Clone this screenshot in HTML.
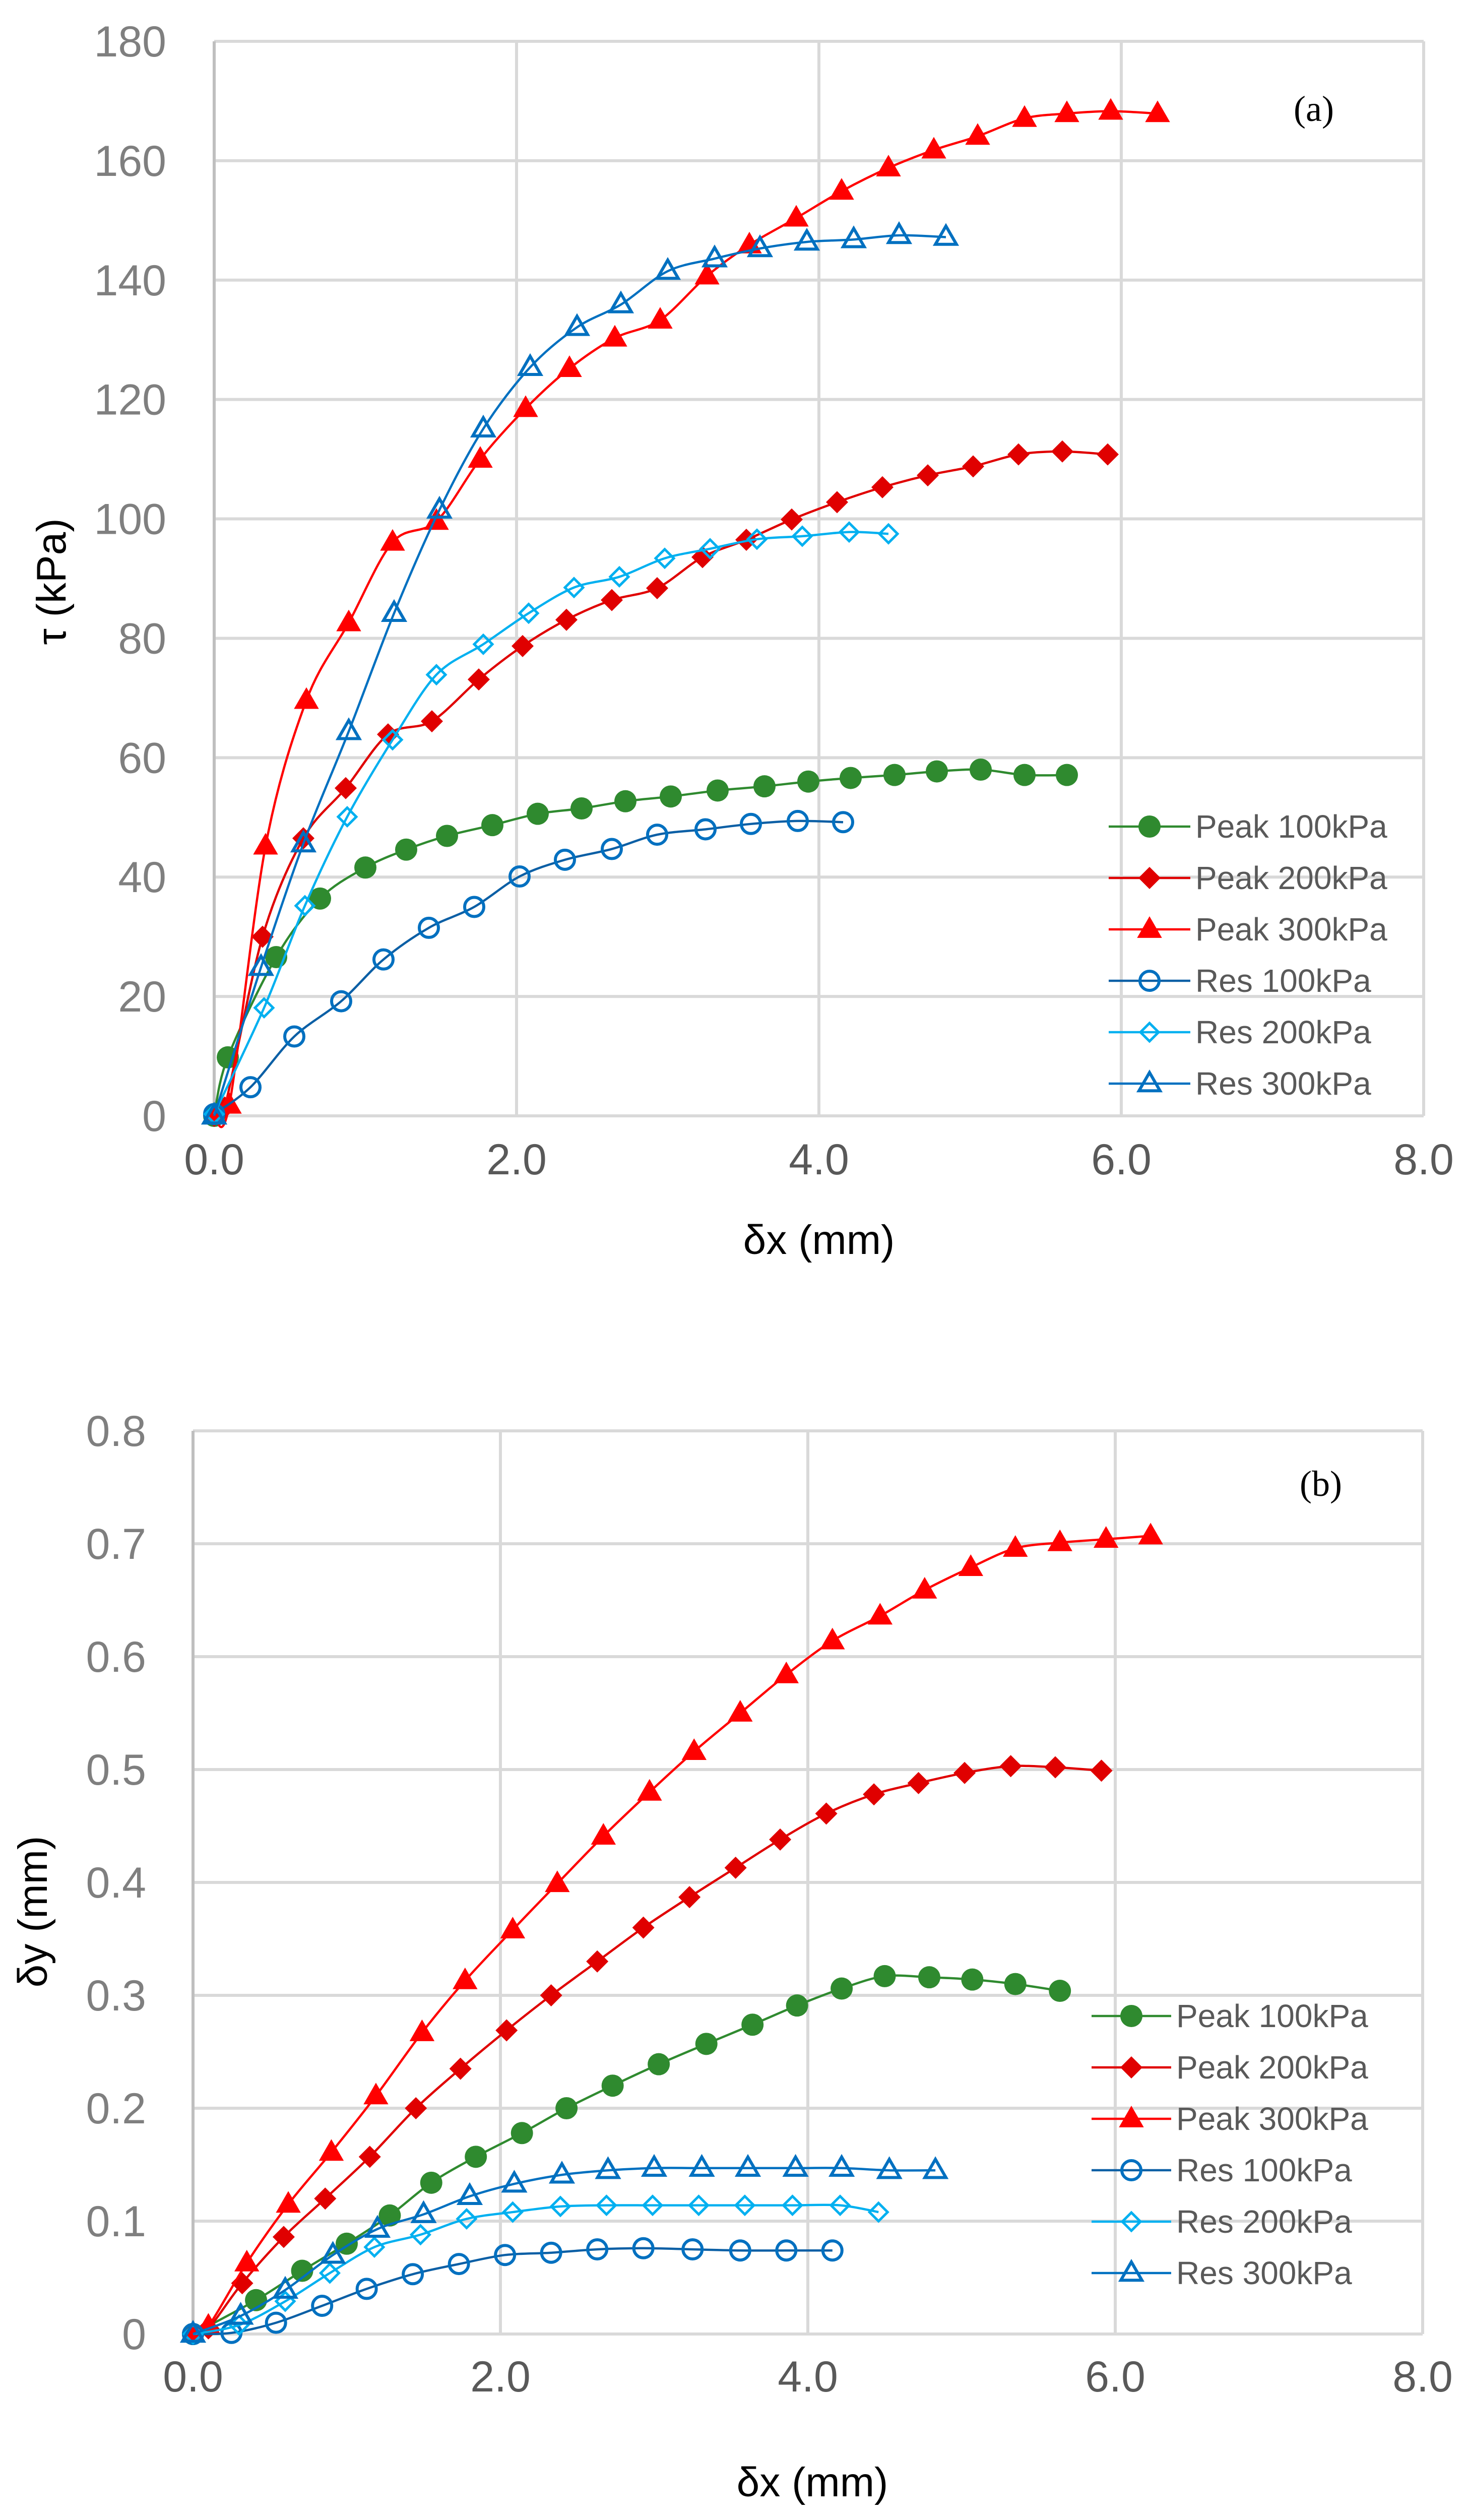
<!DOCTYPE html>
<html><head><meta charset="utf-8">
<style>
html,body{margin:0;padding:0;background:#fff;width:2911px;height:5040px;overflow:hidden;}
svg{display:block;font-family:"Liberation Sans",sans-serif;}
</style></head>
<body>
<svg id="chart" width="2911" height="5040" viewBox="0 0 2911 5040" xmlns="http://www.w3.org/2000/svg">
<rect width="2911" height="5040" fill="#fff"/>
<g id="pa"></g>
<g id="pb"></g>
</svg>
<script>
// ---- Chart (a) data: tau vs dx ----
const aP100x=[0,0.09,0.41,0.70,1.00,1.27,1.54,1.84,2.14,2.43,2.72,3.02,3.33,3.64,3.93,4.21,4.50,4.78,5.07,5.36,5.64];
const aP100y=[0,9.8,26.6,36.4,41.6,44.6,46.9,48.7,50.6,51.5,52.7,53.5,54.5,55.2,56.0,56.6,57.1,57.7,58.0,57.1,57.1];
const aP200x=[0,0.07,0.32,0.59,0.87,1.15,1.44,1.75,2.04,2.33,2.63,2.93,3.23,3.52,3.82,4.12,4.42,4.72,5.02,5.32,5.61,5.91];
const aP200y=[0,1.4,30,46.5,54.9,63.9,66.1,73.1,78.7,83.1,86.4,88.4,93.6,96.5,99.9,102.8,105.3,107.3,108.8,110.8,111.3,110.8];
const aP300x=[0,0.10,0.34,0.61,0.89,1.18,1.47,1.76,2.06,2.35,2.65,2.95,3.26,3.54,3.85,4.15,4.46,4.76,5.05,5.36,5.64,5.93,6.24];
const aP300y=[0,1.8,45.2,69.6,82.6,96.1,99.6,110,118.5,125.2,130.3,133.3,140.7,145.9,150.4,154.9,158.8,161.8,164.1,167.1,167.9,168.3,167.9];
const aR100x=[0,0.24,0.53,0.84,1.12,1.42,1.72,2.02,2.32,2.63,2.93,3.25,3.55,3.86,4.16];
const aR100y=[0.3,4.8,13.3,19.2,26.2,31.5,35.0,40.1,42.9,44.7,47.1,48.0,48.9,49.4,49.2];
const aR200x=[0,0.33,0.60,0.88,1.18,1.47,1.78,2.08,2.38,2.68,2.98,3.28,3.59,3.89,4.20,4.46];
const aR200y=[0.3,18.1,35.2,50.1,63.0,73.9,79.0,84.2,88.5,90.3,93.4,95.0,96.6,97.1,97.8,97.5];
const aR300x=[0,0.31,0.59,0.89,1.19,1.49,1.78,2.09,2.40,2.69,3.00,3.31,3.61,3.92,4.23,4.53,4.84];
const aR300y=[0,24.9,45.6,64.4,84.2,101.5,115.1,125.4,132.1,135.9,141.5,143.6,145.3,146.4,146.8,147.5,147.2];
const aYTicks=["0","20","40","60","80","100","120","140","160","180"];
const xTicks=["0.0","2.0","4.0","6.0","8.0"];
// ---- Chart (b) data: dy vs dx ----
const bP100x=[0,0.41,0.71,1.00,1.28,1.55,1.84,2.14,2.43,2.73,3.03,3.34,3.64,3.93,4.22,4.50,4.79,5.07,5.35,5.64];
const bP100y=[0,0.030,0.056,0.080,0.105,0.134,0.157,0.178,0.200,0.220,0.239,0.257,0.274,0.291,0.306,0.317,0.316,0.314,0.310,0.304];
const bP200x=[0,0.10,0.32,0.59,0.86,1.15,1.45,1.74,2.04,2.33,2.63,2.93,3.23,3.53,3.82,4.12,4.43,4.72,5.02,5.32,5.61,5.91];
const bP200y=[0,0.005,0.045,0.086,0.120,0.157,0.200,0.235,0.269,0.300,0.330,0.360,0.387,0.413,0.438,0.461,0.478,0.488,0.497,0.503,0.502,0.499];
const bP300x=[0,0.10,0.35,0.62,0.90,1.19,1.49,1.77,2.08,2.37,2.67,2.97,3.26,3.56,3.86,4.16,4.47,4.76,5.06,5.35,5.64,5.94,6.23];
const bP300y=[0,0.007,0.063,0.115,0.161,0.211,0.267,0.313,0.358,0.399,0.441,0.480,0.516,0.550,0.584,0.614,0.636,0.659,0.679,0.696,0.701,0.704,0.707];
const bR100x=[0,0.25,0.54,0.84,1.13,1.43,1.73,2.03,2.33,2.63,2.93,3.25,3.56,3.86,4.16];
const bR100y=[0,0.001,0.010,0.025,0.040,0.053,0.062,0.070,0.072,0.075,0.076,0.075,0.074,0.074,0.074];
const bR200x=[0,0.30,0.60,0.89,1.18,1.48,1.78,2.08,2.39,2.69,2.99,3.29,3.59,3.90,4.21,4.46];
const bR200y=[0,0.008,0.029,0.054,0.077,0.088,0.102,0.108,0.113,0.114,0.114,0.114,0.114,0.114,0.114,0.108];
const bR300x=[0,0.31,0.60,0.91,1.20,1.50,1.80,2.09,2.40,2.70,3.00,3.31,3.61,3.92,4.22,4.53,4.83];
const bR300y=[0,0.016,0.039,0.070,0.093,0.106,0.122,0.133,0.141,0.145,0.147,0.147,0.147,0.147,0.147,0.145,0.145];
const bYTicks=["0","0.1","0.2","0.3","0.4","0.5","0.6","0.7","0.8"];
const legendNames=["Peak 100kPa","Peak 200kPa","Peak 300kPa","Res 100kPa","Res 200kPa","Res 300kPa"];

const NS="http://www.w3.org/2000/svg";
function mk(parent,tag,attrs,text){const e=document.createElementNS(NS,tag);for(const k in attrs)e.setAttribute(k,attrs[k]);if(text!==undefined)e.textContent=text;parent.appendChild(e);return e;}
function smooth(pts){
  if(pts.length<2)return "";
  let d="M"+pts[0][0]+","+pts[0][1];
  for(let i=0;i<pts.length-1;i++){
    const p0=pts[Math.max(0,i-1)],p1=pts[i],p2=pts[i+1],p3=pts[Math.min(pts.length-1,i+2)];
    const t=0.16;
    const c1=[p1[0]+(p2[0]-p0[0])*t,p1[1]+(p2[1]-p0[1])*t];
    const c2=[p2[0]-(p3[0]-p1[0])*t,p2[1]-(p3[1]-p1[1])*t];
    d+=" C"+c1[0]+","+c1[1]+" "+c2[0]+","+c2[1]+" "+p2[0]+","+p2[1];
  }
  return d;
}
function marker(g,type,x,y,col,fill){
  let e;
  if(type==="circle"){e=mk(g,"circle",{cx:x,cy:y,r:fill?22:19,fill:fill?col:"none",stroke:col,"stroke-width":fill?0:6});}
  else if(type==="diamond"){const r=fill?22:18;e=mk(g,"polygon",{points:`${x},${y-r} ${x+r},${y} ${x},${y+r} ${x-r},${y}`,fill:fill?col:"none",stroke:col,"stroke-width":fill?0:5});}
  else {const r=fill?26:22;e=mk(g,"polygon",{points:`${x},${y-r} ${x+r*0.95},${y+r*0.65} ${x-r*0.95},${y+r*0.65}`,fill:fill?col:"none",stroke:col,"stroke-width":fill?0:6,"stroke-linejoin":"miter"});}
  return e;
}
const styles=[
 {type:"circle",col:"#2f8a2f",line:"#2f8a2f",fill:true},
 {type:"diamond",col:"#e00000",line:"#e00000",fill:true},
 {type:"triangle",col:"#ff0000",line:"#ff0000",fill:true},
 {type:"circle",col:"#0070c0",line:"#0b5fa5",fill:false},
 {type:"diamond",col:"#00b0f0",line:"#00b0f0",fill:false},
 {type:"triangle",col:"#0070c0",line:"#0070c0",fill:false}];

function drawChart(g,cfg){
  const X=v=>cfg.x0+(v/8)*(cfg.x1-cfg.x0);
  const Y=v=>cfg.y0-(v/cfg.ymax)*(cfg.y0-cfg.y1);
  cfg.yTicks.forEach((t,i)=>{
    const v=parseFloat(t),y=Y(v);
    const gl=mk(g,"line",{x1:cfg.x0,x2:cfg.x1,y1:y,y2:y,stroke:"#d9d9d9","stroke-width":6});
    
    
    const tl=mk(g,"text",{x:cfg.yLabX,y:y+30,"text-anchor":"end","font-size":86,fill:"#7f7f7f"},t);
    
    
  });
  xTicks.forEach(t=>{
    const v=parseFloat(t),x=X(v);
    const gl=mk(g,"line",{x1:x,x2:x,y1:cfg.y1,y2:cfg.y0,stroke:"#d9d9d9","stroke-width":6});
    
    
    const tl=mk(g,"text",{x:x,y:cfg.xLabY+30,"text-anchor":"middle","font-size":86,fill:"#595959"},t);
    
    
  });
  const ax=mk(g,"line",{x1:cfg.x0,x2:cfg.x0,y1:cfg.y1,y2:cfg.y0,stroke:"#bfbfbf","stroke-width":6});
  
  
  cfg.series.forEach((s,i)=>{
    const st=styles[i];
    const sg=mk(g,"g",{});
    
    
    const pts=s[0].map((v,k)=>[X(v),Y(s[1][k])]);
    mk(sg,"path",{d:smooth(pts),fill:"none",stroke:st.line,"stroke-width":4.5});
    pts.forEach(p=>{
      const m=marker(sg,st.type,p[0],p[1],st.col,st.fill);
      
      
    });
  });
  const lg=mk(g,"g",{});
  
  
  legendNames.forEach((n,i)=>{
    const st=styles[i],y=cfg.legY0+i*cfg.legDy;
    const eg=mk(lg,"g",{});
    
    
    mk(eg,"line",{x1:cfg.legX0,x2:cfg.legX1,y1:y,y2:y,stroke:st.line,"stroke-width":4.5});
    marker(eg,st.type,(cfg.legX0+cfg.legX1)/2,y,st.col,st.fill);
    mk(eg,"text",{x:cfg.legX1+10,y:y+22,"font-size":64,fill:"#595959"},n);
  });
  const pl=mk(g,"text",{x:cfg.panX,y:cfg.panY+24,"text-anchor":"middle","font-size":72,fill:"#000","font-family":"Liberation Serif, serif"},cfg.panel);
  
  
  const xt=mk(g,"text",{x:cfg.xtX,y:cfg.xtY+28,"text-anchor":"middle","font-size":82,fill:"#000"},"δx (mm)");
  
  
  const yt=mk(g,"text",{x:0,y:0,"text-anchor":"middle","font-size":82,fill:"#000",transform:`translate(${cfg.ytX+28},${cfg.ytY}) rotate(-90)`},cfg.ytitle);
  
  
}
drawChart(document.getElementById('pa'),{
  x0:425,x1:2825,y0:2214,y1:82,ymax:180,yTicks:aYTicks,yLabX:330,xLabY:2300,
  series:[[aP100x,aP100y],[aP200x,aP200y],[aP300x,aP300y],[aR100x,aR100y],[aR200x,aR200y],[aR300x,aR300y]],
  legX0:2200,legX1:2362,legY0:1640,legDy:102,
  panel:"(a)",panX:2607,panY:216,xtX:1625,xtY:2460,ytX:102,ytY:1154,ytitle:"τ (kPa)"});
drawChart(document.getElementById('pb'),{
  x0:383,x1:2823,y0:4631,y1:2839,ymax:0.8,yTicks:bYTicks,yLabX:290,xLabY:4715,
  series:[[bP100x,bP100y],[bP200x,bP200y],[bP300x,bP300y],[bR100x,bR100y],[bR200x,bR200y],[bR300x,bR300y]],
  legX0:2166,legX1:2324,legY0:4000,legDy:102,
  panel:"(b)",panX:2621,panY:2944,xtX:1612,xtY:4925,ytX:65,ytY:3793,ytitle:"δy (mm)"});
</script>
</body></html>
